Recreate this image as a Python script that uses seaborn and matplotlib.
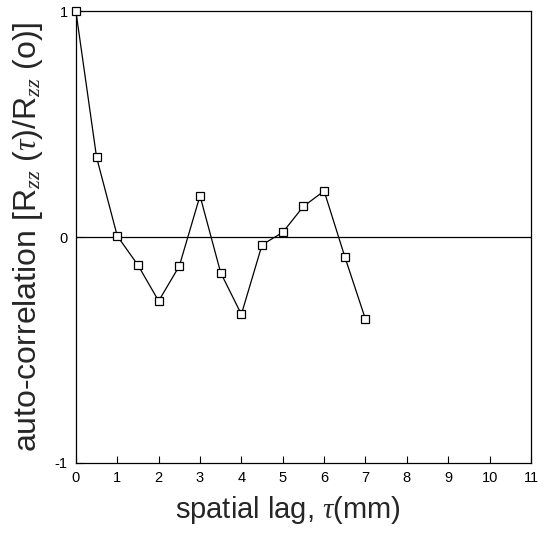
import matplotlib
matplotlib.use("Agg")
import matplotlib.pyplot as plt
import seaborn as sns
import pandas as pd

lag_mm = [0, 0.5, 1, 1.5, 2, 2.5, 3, 3.5, 4, 4.5, 5, 5.5, 6, 6.5, 7]
autocorr = [1.0, 0.353, 0.005, -0.124, -0.283, -0.128, 0.183, -0.158, -0.342,
            -0.034, 0.021, 0.136, 0.204, -0.087, -0.364]
x_ticks = list(range(0, 12))
y_ticks = [-1, 0, 1]

sns.set_theme(style="ticks")
plt.rcParams['font.family'] = ['Liberation Sans', 'DejaVu Sans']
plt.rcParams['mathtext.fontset'] = 'custom'
plt.rcParams['mathtext.rm'] = 'Liberation Sans'
plt.rcParams['mathtext.it'] = 'Liberation Serif:italic'

df = pd.DataFrame({"lag": lag_mm, "r": autocorr})

fig = plt.figure(figsize=(5.46, 5.34), dpi=100)
ax = fig.add_axes([0.139, 0.133, 0.8335, 0.846])

ax.axhline(0, color="black", lw=0.9, zorder=1)
sns.lineplot(data=df, x="lag", y="r", ax=ax, color="black", lw=0.9,
             marker="s", markersize=6, markerfacecolor="white",
             markeredgecolor="black", markeredgewidth=0.9, zorder=3,
             clip_on=False)

ax.set_xlim(0, 11)
ax.set_ylim(-1, 1)
ax.set_xticks(x_ticks)
ax.set_xticklabels([str(t) for t in x_ticks])
ax.set_yticks(y_ticks)
ax.set_yticklabels([str(t) for t in y_ticks])
ax.tick_params(axis="both", direction="in", length=5, width=0.8,
               labelsize=10.5, colors="black", pad=6)
for s in ax.spines.values():
    s.set_color("black")
    s.set_linewidth(0.9)

ax.set_xlabel(r"spatial lag, $\mathit{\tau}$(mm)", fontsize=21, labelpad=6, x=0.465)
ax.set_ylabel(r"auto-correlation [R$_{zz}$ ($\mathit{\tau}$)/R$_{zz}$ (o)]",
              fontsize=23, labelpad=7)

fig.savefig("out.png", dpi=100)
